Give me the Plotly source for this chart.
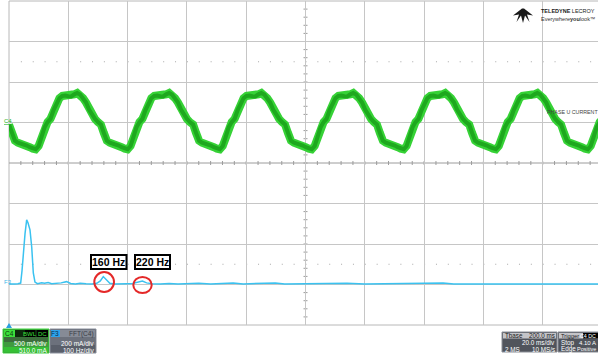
import plotly.graph_objects as go

W, H = 598, 358
FONT = "Liberation Sans, Arial, sans-serif"

# C4 phase U current, one cycle (ms from cycle start, mA)
cycle_start_ms = [0.0, 31.0, 62.1, 93.1, 124.1, 155.2, 186.2]
phase_ms = [0, 1, 2, 3, 4, 5, 6, 7, 8, 9, 10, 11, 12, 13, 14, 15,
            16, 17, 18, 19, 20, 21, 22, 23, 24, 25, 26, 27, 28, 29, 30]
current_ma = [-25, -130, -225, -250, -260, -265, -285, -305, -322, -330, -290,
              -165, -60, 5, 45, 150, 240, 300, 328, 333, 325, 322, 348, 365,
              345, 300, 247, 160, 95, 45, 5]

# F3 = FFT(C4)
freq_hz = [0, 5, 10, 15, 19.7, 22, 24.1, 27, 29.8, 32,
           35.4, 38.3, 41, 43.8, 48, 55, 60, 66, 72, 80,
           88, 97, 104, 112, 120, 130, 140, 148, 154, 159,
           164, 170, 178, 188, 198, 208, 216, 225, 232, 242,
           255, 270, 285, 300, 320, 340, 360, 378, 395, 415,
           435, 449, 465, 490, 515, 540, 570, 600, 630, 660,
           690, 715, 732, 750, 780, 810, 840, 858, 880, 905,
           929, 950, 975, 1000]
fft_ma = [2, 4, 3, 4, 7, 70, 150, 250, 319, 305,
          270, 185, 57, 12, 4, 8, 6, 10, 4, 5,
          8, 14, 5, 3, 6, 4, 3, 6, 18, 39,
          22, 6, 3, 5, 4, 5, 9, 17, 8, 4,
          3, 5, 3, 4, 6, 3, 4, 7, 3, 4,
          3, 7, 3, 4, 3, 3, 6, 3, 4, 3,
          3, 4, 7, 3, 3, 4, 3, 6, 3, 3,
          5, 3, 3, 3]

peak_labels = ["160 Hz", "220 Hz"]


def px(x):
    return x / W


def py(y):
    return 1 - y / H


shapes = []
annotations = []


def rect(x0, y0, x1, y1, fill, line=None, lw=0, layer="above"):
    shapes.append(dict(type="rect", xref="paper", yref="paper",
                       x0=px(x0), x1=px(x1), y0=py(y1), y1=py(y0),
                       fillcolor=fill, layer=layer,
                       line=dict(color=line or fill, width=lw)))


def hline(y, x0, x1, color, width=1, dash="solid", layer="below"):
    shapes.append(dict(type="line", xref="paper", yref="paper",
                       x0=px(x0), x1=px(x1), y0=py(y), y1=py(y), layer=layer,
                       line=dict(color=color, width=width, dash=dash)))


def vline(x, y0, y1, color, width=1, layer="below"):
    shapes.append(dict(type="line", xref="paper", yref="paper",
                       x0=px(x), x1=px(x), y0=py(y0), y1=py(y1), layer=layer,
                       line=dict(color=color, width=width)))


def text(x, y, s, size=7, color="#ffffff", anchor="left"):
    annotations.append(dict(xref="paper", yref="paper", x=px(x), y=py(y),
                            text=s, showarrow=False, xanchor=anchor,
                            yanchor="middle", borderpad=0,
                            font=dict(size=size, color=color, family=FONT)))


# screen geometry
left, top, mid, bottom = 9, 1, 163, 325
xdiv, ydiv = 59.3, 40.5

t_ms = [s + p for s in cycle_start_ms for p in phase_ms]
i_ma = current_ma * len(cycle_start_ms)

fig = go.Figure()
fig.add_trace(go.Scatter(x=t_ms, y=i_ma, mode="lines", xaxis="x", yaxis="y",
                         line=dict(color="#36d236", width=8), hoverinfo="skip"))
fig.add_trace(go.Scatter(x=t_ms, y=i_ma, mode="lines", xaxis="x", yaxis="y",
                         line=dict(color="#1ea81e", width=4), hoverinfo="skip"))
fig.add_trace(go.Scatter(x=freq_hz, y=fft_ma, mode="lines", xaxis="x2", yaxis="y2",
                         line=dict(color="#3ac2f0", width=1.5), hoverinfo="skip"))

# borders, centre cross with ticks, dotted rows
hline(top, left, W + 5, "#b8b8b8")
hline(bottom, left, W + 5, "#b8b8b8")
vline(left, top, bottom, "#b8b8b8")
hline(mid, left, W + 5, "#9c9c9c")
vline(left + 5 * xdiv, top, bottom, "#9c9c9c")
k = 1
while left + k * xdiv / 5 < W:
    x = left + k * xdiv / 5
    vline(x, mid - 2, mid + 2, "#9c9c9c")
    k += 1
k = 1
while top + k * ydiv / 5 < bottom:
    y = top + k * ydiv / 5
    hline(y, left + 5 * xdiv - 2, left + 5 * xdiv + 2, "#9c9c9c")
    k += 1
for y in (mid - 2.5 * ydiv, mid + 2.5 * ydiv):
    hline(y, left + xdiv / 5, W, "#a8a8a8", dash="1px,10.86px")

# channel markers
text(3, 120.5, "<u>C4</u>", size=6, color="#22b422")
text(3, 281.5, "F3", size=6, color="#44b8e8")
text(546, 112, "PHASE U CURRENT", size=5.3, color="#444444")

# peak callouts
boxes = [(91, 126.5), (135, 170)]
for (bx0, bx1), label in zip(boxes, peak_labels):
    rect(bx0, 255, bx1, 269, "#ffffff", line="#000000", lw=2)
    text((bx0 + bx1) / 2, 262.3, "<b>" + label + "</b>", size=10.5,
         color="#000000", anchor="center")
for cx0, cy0, cx1, cy1 in [(94.3, 272, 114, 292), (133.3, 277, 151.7, 293)]:
    shapes.append(dict(type="circle", xref="paper", yref="paper",
                       x0=px(cx0), x1=px(cx1), y0=py(cy1), y1=py(cy0),
                       line=dict(color="#e42828", width=2)))

# logo
logo_pts = [(513, 15.5), (522, 8.5), (524, 8.5), (533, 15.5), (527, 14.5),
            (529.5, 22), (525, 15.5), (523, 23), (521, 15.5), (516.5, 22),
            (519, 14.5)]
logo_path = "M " + " L ".join(f"{px(a)} {py(b)}" for a, b in logo_pts) + " Z"
shapes.append(dict(type="path", xref="paper", yref="paper", fillcolor="#1a1a1a",
                   line=dict(width=0), path=logo_path))
text(540, 10.5, "<b>TELEDYNE</b> LECROY", size=5.5, color="#222222")
text(540, 18.5, "Everywhere<b>you</b>look\u2122", size=5.5, color="#333333")

# trigger position marker
shapes.append(dict(type="path", xref="paper", yref="paper", fillcolor="#2a9fe0",
                   line=dict(width=0),
                   path=f"M {px(6)} {py(328)} L {px(12)} {py(328)} L {px(9)} {py(323)} Z"))

# C4 descriptor
rect(3, 329, 49, 353, "#2e8f2e", line="#3fd23f", lw=1)
rect(4, 330, 48, 337, "#0d2a0d")
rect(4, 337, 48, 342, "#3c6e3c")
rect(4, 342, 48, 347, "#3f9a3f")
rect(4, 347, 48, 352, "#35c035")
rect(4, 330, 15, 337, "#3ce03c")
rect(25, 330, 35, 337, "#000000")
rect(37, 330, 48, 337, "#000000")
text(9.5, 333.5, "C4", size=6.5, color="#0a3a0a", anchor="center")
text(30, 333.5, "BWL", size=6, color="#3ce03c", anchor="center")
text(42.5, 333.5, "DC", size=6, color="#3ce03c", anchor="center")
text(48, 343, "500 mA/div", size=6.5, anchor="right")
text(48, 350, "510.0 mA", size=6.5, anchor="right")

# F3 descriptor
rect(50, 329, 96, 353, "#5a5f6a", line="#8a909c", lw=1)
rect(51, 330, 95, 337, "#868b96")
rect(51, 337, 95, 345, "#6c717c")
rect(51, 330, 60, 337, "#2ea4ec")
text(55.5, 333.5, "F3", size=6.5, color="#0a2a4a", anchor="center")
text(95, 333.5, "FFT(C4)", size=6.5, color="#3a3e48", anchor="right")
text(95, 343, "200 mA/div", size=6.5, anchor="right")
text(95, 350, "100 Hz/div", size=6.5, anchor="right")

# timebase descriptor
rect(502, 332, 557, 352, "#50545c", line="#8a8e96", lw=1)
rect(503, 333, 556, 338.5, "#c4c4c8")
text(504, 335.8, "Tbase", size=6.3, color="#202020")
text(556, 335.8, "200.0 ms", size=6.3, color="#202020", anchor="right")
text(556, 342.5, "20.0 ms/div", size=6.3, anchor="right")
text(504, 349, "2 MS", size=6.3)
text(556, 349, "10 MS/s", size=6.3, anchor="right")

# trigger descriptor
rect(558, 332, 604, 352, "#50545c", line="#8a8e96", lw=1)
rect(559, 333, 604, 338.5, "#c4c4c8")
rect(583, 333, 604, 338.5, "#000000")
text(559.5, 335.8, "Trigger", size=5.8, color="#202020")
text(597, 335.8, "C4 DC", size=5.3, color="#ffffff", anchor="right")
text(560, 342.5, "Stop", size=6.3)
text(597, 342.5, "4.10 A", size=6, anchor="right")
text(560, 349, "Edge", size=6.3)
text(597, 349, "Positive", size=5.5, anchor="right")

grid = dict(showgrid=True, gridcolor="#c6c6c6", gridwidth=1, zeroline=False,
            showline=False, showticklabels=False, ticks="", fixedrange=True)

fig.update_layout(
    width=W, height=H,
    margin=dict(l=0, r=0, t=0, b=0),
    paper_bgcolor="#ffffff",
    plot_bgcolor="rgba(0,0,0,0)",
    showlegend=False,
    font=dict(family=FONT),
    xaxis=dict(domain=[px(left), 1], range=[0, (W - left) / xdiv * 20],
               dtick=20, tick0=0, anchor="y", **grid),
    yaxis=dict(domain=[py(mid), py(top)], range=[-500, 1500],
               dtick=500, tick0=0, anchor="x", **grid),
    xaxis2=dict(domain=[px(left), 1], range=[0, (W - left) / xdiv * 100],
                dtick=100, tick0=0, anchor="y2", **grid),
    yaxis2=dict(domain=[py(bottom), py(mid)], range=[-200, 600],
                dtick=200, tick0=0, anchor="x2", **grid),
    shapes=shapes,
    annotations=annotations,
)

fig.write_html("out.html", config={"displayModeBar": False},
               post_script="document.body.style.margin='0';"
                           "document.body.style.overflow='hidden';")
